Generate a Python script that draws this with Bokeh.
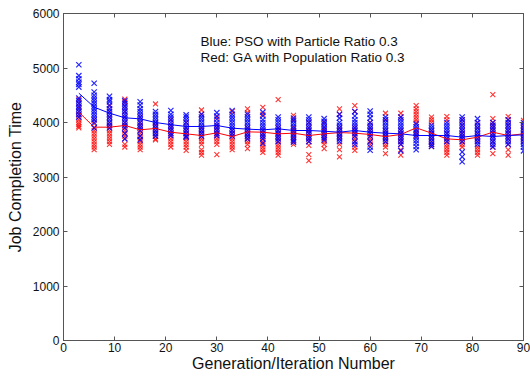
from bokeh.plotting import figure
from bokeh.models import LinearAxis, Range1d, FixedTicker, Label
from bokeh.embed import file_html
from bokeh.resources import INLINE

generations = [3, 6, 9, 12, 15, 18, 21, 24, 27, 30, 33, 36, 39, 42, 45,
               48, 51, 54, 57, 60, 63, 66, 69, 72, 75, 78, 81, 84, 87, 90]

pso_samples = [
    [5060, 4860, 4800, 4740, 4700, 4650, 4450, 4400, 4350, 4300, 4250, 4200, 4150, 4100],
    [4720, 4560, 4500, 4450, 4400, 4350, 4300, 4250, 4200, 4150, 4100, 4050, 4000, 3900],
    [4480, 4420, 4380, 4320, 4250, 4200, 4150, 4100, 4050, 4000, 3950, 3900],
    [4400, 4350, 4300, 4250, 4200, 4150, 4100, 4050, 4000, 3950, 3900, 3800, 3700],
    [4380, 4320, 4250, 4200, 4150, 4100, 4050, 4000, 3950, 3900, 3850, 3750, 3680],
    [4200, 4150, 4100, 4050, 4000, 3950, 3900, 3850, 3800, 3750],
    [4220, 4150, 4100, 4050, 4000, 3950, 3900, 3850, 3800, 3760],
    [4140, 4100, 4050, 4000, 3950, 3900, 3850, 3800, 3750, 3730],
    [4150, 4100, 4050, 4000, 3950, 3900, 3850, 3800, 3750],
    [4180, 4120, 4060, 4000, 3950, 3900, 3850, 3800, 3760],
    [4220, 4150, 4100, 4050, 4000, 3950, 3900, 3850, 3800, 3750],
    [4150, 4100, 4050, 4000, 3950, 3900, 3850, 3800, 3750, 3700],
    [4190, 4120, 4050, 4000, 3950, 3900, 3850, 3800, 3750, 3700, 3620],
    [4100, 4050, 4000, 3950, 3900, 3850, 3800, 3750, 3700, 3650],
    [4080, 4030, 3980, 3930, 3880, 3830, 3780, 3730, 3680, 3640],
    [4100, 4050, 4000, 3950, 3900, 3850, 3800, 3750, 3700, 3650],
    [4070, 4020, 3970, 3920, 3870, 3820, 3770, 3720, 3680],
    [4150, 4080, 4000, 3950, 3900, 3850, 3800, 3750, 3700, 3650],
    [4200, 4120, 4050, 4000, 3950, 3900, 3850, 3800, 3750, 3650, 3600],
    [4210, 4150, 4080, 4000, 3950, 3900, 3850, 3800, 3750, 3650, 3550, 3490],
    [4100, 4050, 4000, 3950, 3900, 3850, 3800, 3750, 3700, 3650],
    [4100, 4050, 4000, 3950, 3900, 3850, 3800, 3750, 3700, 3650, 3600, 3480],
    [3970, 3920, 3870, 3820, 3770, 3720, 3670, 3620, 3560, 3500],
    [3950, 3900, 3850, 3800, 3750, 3700, 3650, 3600, 3560],
    [4000, 3950, 3900, 3850, 3800, 3750, 3700, 3650],
    [4100, 4050, 4000, 3950, 3900, 3850, 3800, 3750, 3700, 3650, 3460, 3370, 3280],
    [4070, 4000, 3950, 3900, 3850, 3800, 3750, 3700, 3650, 3600],
    [4000, 3950, 3900, 3850, 3800, 3750, 3700, 3650, 3600, 3550],
    [4050, 4000, 3950, 3900, 3850, 3800, 3750, 3700, 3650, 3600],
    [4000, 3950, 3900, 3850, 3800, 3750, 3700, 3650, 3600, 3550, 3480],
]

ga_samples = [
    [4430, 4350, 4280, 4200, 4150, 4100, 4050, 4000, 3960, 3930, 3900],
    [4050, 3980, 3900, 3850, 3800, 3750, 3700, 3650, 3600, 3550, 3500],
    [4300, 4200, 4100, 4000, 3950, 3900, 3850, 3800, 3750, 3700, 3650, 3600],
    [4430, 4380, 4300, 4200, 4100, 4000, 3950, 3900, 3850, 3800, 3750, 3700, 3600, 3550],
    [4100, 4000, 3950, 3900, 3850, 3800, 3750, 3700, 3650, 3600, 3550, 3500],
    [4340, 4000, 3950, 3900, 3850, 3800, 3750, 3700, 3680],
    [4050, 3950, 3900, 3850, 3800, 3750, 3700, 3650, 3600, 3550],
    [4000, 3900, 3850, 3800, 3750, 3700, 3650, 3600, 3550, 3490],
    [4230, 4150, 3900, 3850, 3800, 3750, 3700, 3650, 3600, 3500, 3450, 3400],
    [4100, 3950, 3900, 3850, 3800, 3750, 3700, 3650, 3600, 3410],
    [4200, 3850, 3800, 3750, 3700, 3650, 3600, 3550, 3500],
    [4250, 4180, 3900, 3850, 3800, 3750, 3700, 3650, 3600, 3520],
    [4280, 4150, 3850, 3800, 3750, 3700, 3650, 3600, 3550, 3500, 3450],
    [4420, 3900, 3850, 3800, 3750, 3700, 3650, 3600, 3550, 3500, 3450, 3400],
    [4130, 4050, 3900, 3850, 3800, 3750, 3700, 3650, 3600],
    [4000, 3900, 3850, 3800, 3750, 3700, 3650, 3580, 3410, 3300],
    [4000, 3900, 3850, 3800, 3750, 3700, 3650, 3600, 3520],
    [4250, 4150, 3900, 3850, 3800, 3750, 3700, 3600, 3500, 3370],
    [4310, 4200, 3900, 3850, 3800, 3750, 3700, 3650, 3550, 3490],
    [4000, 3900, 3850, 3800, 3750, 3700, 3650, 3600],
    [4170, 4050, 3850, 3800, 3750, 3700, 3650, 3600, 3550, 3430],
    [4170, 4100, 3850, 3800, 3750, 3700, 3650, 3600, 3500, 3400],
    [4310, 4250, 4200, 4150, 4100, 4050, 4000, 3850, 3800, 3750],
    [4100, 4050, 4000, 3850, 3800, 3750, 3700, 3650, 3600, 3560],
    [4110, 4050, 3800, 3700, 3650, 3600, 3550, 3500, 3450, 3400],
    [4050, 3950, 3850, 3800, 3750, 3700, 3650, 3600, 3550],
    [4000, 3900, 3800, 3750, 3700, 3650, 3550, 3500, 3450, 3400],
    [4510, 4070, 4000, 3950, 3900, 3850, 3800, 3750, 3650, 3550, 3430],
    [4110, 4050, 3950, 3850, 3800, 3750, 3700, 3600, 3500, 3400],
    [4040, 3950, 3900, 3850, 3800, 3750, 3700, 3650],
]

pso_mean = [4538, 4281, 4171, 4086, 4067, 4000, 3960, 3927, 3927, 3945,
            3896, 3878, 3866, 3884, 3853, 3853, 3840, 3822, 3853, 3822,
            3804, 3792, 3761, 3761, 3761, 3731, 3761, 3743, 3761, 3773]
ga_mean = [4190, 3914, 3914, 3945, 3866, 3890, 3822, 3792, 3761, 3810,
           3743, 3828, 3822, 3792, 3804, 3761, 3792, 3815, 3804, 3780,
           3743, 3780, 3902, 3805, 3700, 3682, 3731, 3822, 3761, 3792]

x_ticks = [0, 10, 20, 30, 40, 50, 60, 70, 80, 90]
y_ticks = [0, 1000, 2000, 3000, 4000, 5000, 6000]
note_lines = ["Blue: PSO with Particle Ratio 0.3", "Red: GA with Population Ratio 0.3"]


def flatten(samples):
    xs, ys = [], []
    for g, vals in zip(generations, samples):
        for v in vals:
            xs.append(g)
            ys.append(v)
    return xs, ys


pso_x, pso_y = flatten(pso_samples)
ga_x, ga_y = flatten(ga_samples)

FONT = "Liberation Sans"
AXIS_COLOR = "#555555"

p = figure(width=530, height=376, output_backend="svg", toolbar_location=None,
           x_range=Range1d(0, 90), y_range=Range1d(0, 6000),
           min_border_left=63, min_border_right=7, min_border_top=13, min_border_bottom=36)
p.background_fill_color = "white"
p.border_fill_color = "white"
p.outline_line_color = AXIS_COLOR
p.xgrid.visible = False
p.ygrid.visible = False

p.scatter(ga_x, ga_y, marker="x", size=7, line_color="#FF0000", line_alpha=0.8, line_width=1.1)
p.scatter(pso_x, pso_y, marker="x", size=7.5, line_color="#0000FF", line_alpha=0.85, line_width=1.2)
p.line(generations, ga_mean, line_color="#FF0000", line_width=1)
p.line(generations, pso_mean, line_color="#0000FF", line_width=1)

for ax in (p.xaxis[0], p.yaxis[0]):
    ax.axis_line_color = AXIS_COLOR
    ax.major_tick_line_color = AXIS_COLOR
    ax.major_tick_in = 4
    ax.major_tick_out = 0
    ax.minor_tick_line_color = None
    ax.major_label_text_font = FONT
    ax.major_label_text_font_size = "12px"
    ax.major_label_text_color = "#111111"
    ax.axis_label_text_font = FONT
    ax.axis_label_text_font_size = "16px"
    ax.axis_label_text_font_style = "normal"
    ax.axis_label_text_color = "#111111"

p.xaxis[0].ticker = FixedTicker(ticks=x_ticks)
p.yaxis[0].ticker = FixedTicker(ticks=y_ticks)
p.xaxis[0].axis_label = "Generation/Iteration Number"
p.yaxis[0].axis_label = "Job Completion Time"
p.xaxis[0].major_label_standoff = 2
p.xaxis[0].axis_label_standoff = 0
p.yaxis[0].major_label_standoff = 4
p.yaxis[0].axis_label_standoff = 6

top_ax = LinearAxis(ticker=FixedTicker(ticks=x_ticks))
right_ax = LinearAxis(ticker=FixedTicker(ticks=y_ticks))
for ax in (top_ax, right_ax):
    ax.axis_line_color = AXIS_COLOR
    ax.major_tick_line_color = AXIS_COLOR
    ax.major_tick_in = 4
    ax.major_tick_out = 0
    ax.minor_tick_line_color = None
    ax.major_label_text_color = None
    ax.major_label_standoff = 0
p.add_layout(top_ax, "above")
p.add_layout(right_ax, "right")

for i, line in enumerate(note_lines):
    p.add_layout(Label(x=26.8, y=5486 - i * 294, text=line, text_font=FONT,
                       text_font_size="13.5px", text_color="#111111",
                       text_baseline="middle", text_align="left"))

open("out.html", "w").write(file_html(p, INLINE))
